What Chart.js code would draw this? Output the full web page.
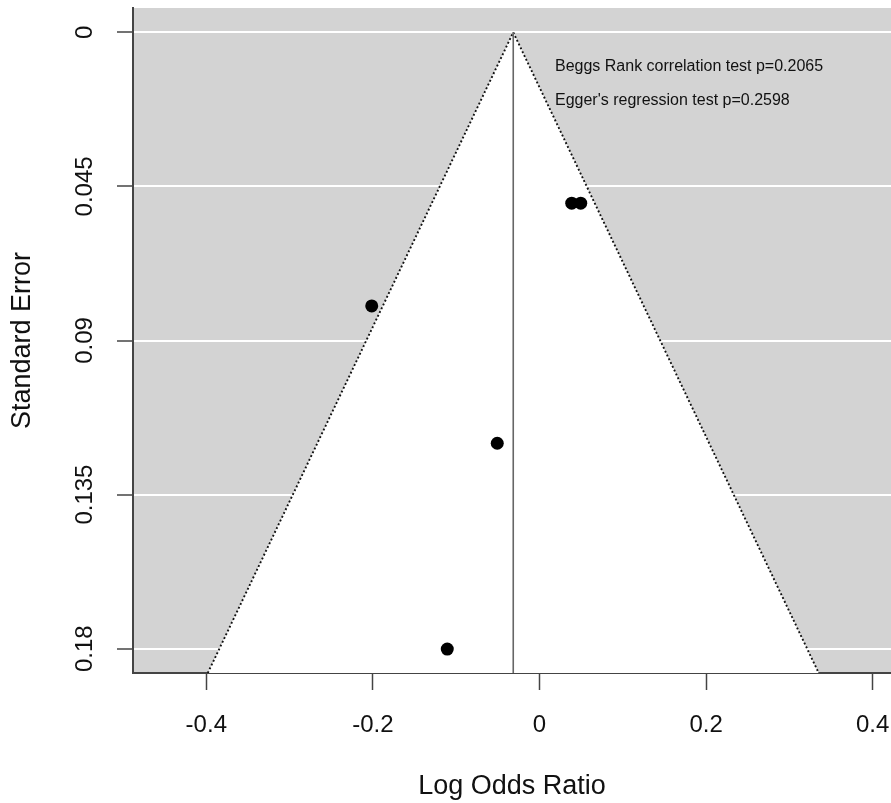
<!DOCTYPE html>
<html>
<head>
<meta charset="utf-8">
<script src="https://cdn.jsdelivr.net/npm/chart.js@4.4.1/dist/chart.umd.min.js"></script>
<style>
  html, body { margin: 0; padding: 0; background: #ffffff; overflow: hidden; }
  #wrap { width: 891px; height: 803px; position: relative; }
  canvas { display: block; }
</style>
</head>
<body>
<div id="wrap"><canvas id="c"></canvas></div>
<script>
// ---- data ----
const logOddsRatio = [0.0387, 0.0495, -0.2014, -0.0507, -0.1107];
const standardError = [0.0499, 0.0499, 0.0799, 0.1200, 0.1801];
const pooledEstimate = -0.0315;   // centre of the funnel
const zCrit = 1.96;

const xTicks = [-0.4, -0.2, 0, 0.2, 0.4];
const xTickLabels = ['-0.4', '-0.2', '0', '0.2', '0.4'];
const yTicks = [0, 0.045, 0.09, 0.135, 0.18];
const yTickLabels = ['0', '0.045', '0.09', '0.135', '0.18'];

const annotationTexts = ['Beggs Rank correlation test p=0.2065', "Egger's regression test p=0.2598"];
const annotationX = [0.0186, 0.0186];
const annotationY = [0.0101, 0.0198];

// axis ranges
const X_MIN = -0.488, X_MAX = 0.422;
const Y_MIN = -0.0071, Y_MAX = 0.1871;

const FONT = 'Liberation Sans, Arial, Helvetica, sans-serif';

const points = logOddsRatio.map((x, i) => ({ x: x, y: standardError[i] }));
const funnel = [
  { x: pooledEstimate - zCrit * Y_MAX, y: Y_MAX },
  { x: pooledEstimate, y: 0 },
  { x: pooledEstimate + zCrit * Y_MAX, y: Y_MAX }
];
const centreLine = [
  { x: pooledEstimate, y: 0 },
  { x: pooledEstimate, y: Y_MAX }
];

const bgPlugin = {
  id: 'bg',
  beforeDraw(chart) {
    const { ctx, chartArea: a } = chart;
    ctx.save();
    ctx.fillStyle = '#ffffff';
    ctx.fillRect(0, 0, chart.width, chart.height);
    ctx.fillStyle = '#d3d3d3';
    ctx.fillRect(a.left, a.top, a.right - a.left, a.bottom - a.top);
    ctx.restore();
  }
};

const textPlugin = {
  id: 'annot',
  afterDatasetsDraw(chart) {
    const { ctx, scales } = chart;
    ctx.save();
    ctx.font = '16px ' + FONT;
    ctx.fillStyle = '#111111';
    ctx.textAlign = 'left';
    ctx.textBaseline = 'middle';
    annotationTexts.forEach((t, i) => {
      ctx.fillText(t, scales.x.getPixelForValue(annotationX[i]), scales.y.getPixelForValue(annotationY[i]));
    });
    ctx.restore();
  }
};

new Chart(document.getElementById('c'), {
  type: 'scatter',
  data: {
    datasets: [
      {
        label: 'studies',
        data: points,
        order: 0,
        backgroundColor: '#000000',
        borderColor: '#000000',
        pointRadius: 6.5,
        pointHoverRadius: 6.5,
        borderWidth: 0
      },
      {
        label: 'centre',
        data: centreLine,
        order: 1,
        showLine: true,
        pointRadius: 0,
        borderColor: '#666666',
        borderWidth: 1.6,
        fill: false
      },
      {
        label: 'funnel',
        data: funnel,
        order: 2,
        showLine: true,
        pointRadius: 0,
        borderColor: '#111111',
        borderWidth: 1.9,
        borderDash: [1.9, 2.3],
        backgroundColor: '#ffffff',
        fill: { value: Y_MAX },
        tension: 0
      }
    ]
  },
  options: {
    responsive: true,
    maintainAspectRatio: false,
    animation: false,
    events: [],
    layout: { autoPadding: false, padding: { top: 8, left: 0, right: 0, bottom: 0 } },
    plugins: {
      legend: { display: false },
      tooltip: { enabled: false },
      filler: { propagate: false }
    },
    scales: {
      x: {
        type: 'linear',
        position: 'bottom',
        min: X_MIN,
        max: X_MAX,
        afterBuildTicks(scale) { scale.ticks = xTicks.map(v => ({ value: v })); },
        afterFit(scale) { scale.height = 130; scale.paddingLeft = 0; scale.paddingRight = 0; },
        ticks: {
          callback: (v, i) => xTickLabels[i],
          font: { family: FONT, size: 24 },
          color: '#111111',
          padding: 21,
          maxRotation: 0,
          minRotation: 0,
          autoSkip: false
        },
        grid: {
          drawOnChartArea: false,
          drawTicks: true,
          tickLength: 17,
          tickColor: '#444444',
          tickWidth: 1.5
        },
        border: { display: true, color: '#444444', width: 2 },
        title: {
          display: true,
          text: 'Log Odds Ratio',
          font: { family: FONT, size: 27 },
          color: '#111111',
          padding: { top: 0, bottom: 0 }
        }
      },
      y: {
        type: 'linear',
        position: 'left',
        reverse: true,
        min: Y_MIN,
        max: Y_MAX,
        afterBuildTicks(scale) { scale.ticks = yTicks.map(v => ({ value: v })); },
        afterFit(scale) { scale.width = 133; scale.paddingTop = 0; scale.paddingBottom = 0; },
        ticks: {
          callback: (v, i) => yTickLabels[i],
          font: { family: FONT, size: 24 },
          color: '#111111',
          padding: 2,
          minRotation: 90,
          maxRotation: 90,
          crossAlign: 'center',
          autoSkip: false
        },
        grid: {
          color: '#ffffff',
          lineWidth: 2,
          drawTicks: true,
          tickLength: 16,
          tickColor: '#444444',
          tickWidth: 1.5
        },
        border: { display: true, color: '#444444', width: 2 },
        title: {
          display: true,
          text: 'Standard Error',
          font: { family: FONT, size: 27 },
          color: '#111111',
          padding: { top: 6, bottom: 0 }
        }
      }
    }
  },
  plugins: [bgPlugin, textPlugin]
});
</script>
</body>
</html>
